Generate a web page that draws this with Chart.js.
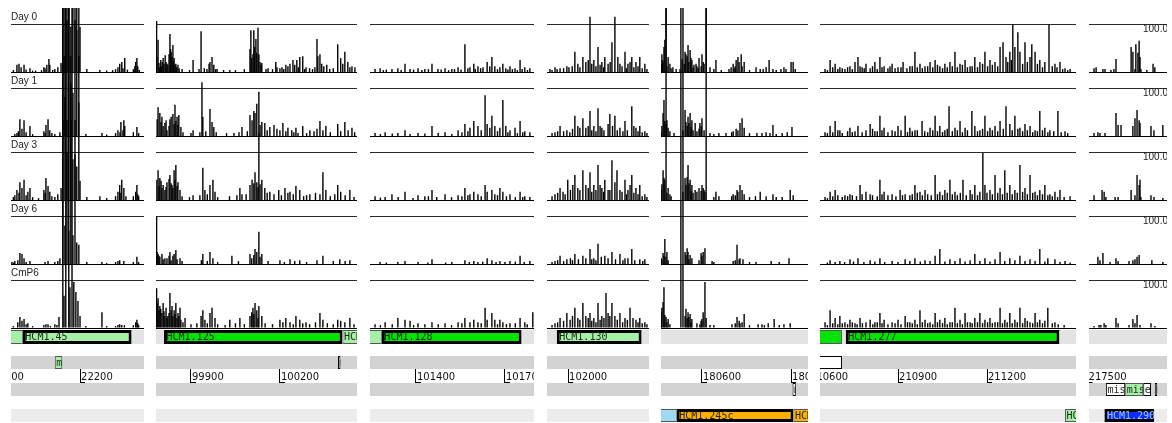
<!DOCTYPE html>
<html><head><meta charset="utf-8">
<script src="https://cdn.jsdelivr.net/npm/chart.js@4/dist/chart.umd.min.js"></script>
<style>
html,body{margin:0;padding:0;background:#fff;width:1172px;height:423px;overflow:hidden;}
canvas.c{position:absolute;display:block;}
</style></head><body>
<script>
// ---------------- data ----------------
const rowNames = ['Day 0', 'Day 1', 'Day 3', 'Day 6', 'CmP6'];
const scaleTop = 100;
const scaleLabel = '100.0';
const panelMin = [21967, 99782, 101245, 101929, 180462, 210637, 217505];
const panelMax = [22416, 100460, 101798, 102273, 180957, 211500, 217768];
const axisTicks = [[21900, 22200], [99900, 100200], [101400, 101700], [102000], [180600, 180900], [210600, 210900, 211200, 211500], [217500]];

// [position (bp), score]
const p1Day0 = [[21987,15],[21994,17],[22001,10],[22011,15],[22031,8],[22078,10],[22088,15],[22095,27],[22098,15],[22125,10],[22136,19],
  [22142,300],[22149,300],[22156,108],[22162,300],[22169,95],[22176,300],[22183,108],[22189,88],[22196,300],[22200,94],
  [22223,6],[22267,4],[22328,10],[22334,17],[22341,21],[22351,29],[22385,12],[22388,21],[22392,29],[22395,12],
  [21975,4],[22018,5],[22040,3],[22050,3],[22070,4],[22082,8],[22108,4],[22115,6],[22290,3],[22310,4],[22320,6],[22345,8],[22360,5],[22380,6],[22400,4]];
const p1Day1 = [[21987,6],[21997,35],[22004,15],[22011,33],[22031,21],[22085,23],[22092,35],[22098,12],[22105,6],[22132,8],
  [22142,300],[22149,81],[22156,300],[22162,300],[22169,110],[22176,90],[22183,300],[22189,300],[22196,70],
  [22220,4],[22274,6],[22328,12],[22338,29],[22348,33],[22351,21],[22392,19],
  [21980,4],[21992,10],[22018,8],[22040,4],[22078,10],[22082,6],[22115,4],[22290,3],[22320,6],[22335,8],[22345,12],[22380,8],[22398,6]];
const p1Day3 = [[21980,10],[21987,21],[21997,37],[22004,25],[22011,42],[22024,17],[22031,25],[22078,21],[22085,46],[22092,29],[22098,17],[22125,12],[22136,25],
  [22142,300],[22149,300],[22156,100],[22162,300],[22169,300],[22176,85],[22183,95],[22189,70],[22196,300],[22200,40],
  [22223,6],[22267,8],[22328,17],[22334,31],[22341,42],[22348,25],[22388,17],[22392,31],[22395,12],
  [21975,6],[21994,15],[22018,10],[22040,6],[22060,4],[22082,15],[22105,8],[22115,6],[22290,4],[22320,8],[22338,15],[22355,8],[22380,8],[22398,8]];
const p1Day6 = [[21970,4],[21980,6],[21997,23],[22004,21],[22011,12],[22031,6],[22092,6],[22125,6],[22132,12],
  [22142,300],[22149,80],[22156,300],[22162,70],[22169,300],[22176,60],[22183,300],[22189,45],[22196,40],
  [22223,4],[22274,4],[22328,6],[22334,8],[22348,6],[22392,15],
  [21975,3],[21990,8],[22018,4],[22082,4],[22115,4],[22290,2],[22320,4],[22380,4],[22398,4]];
const p1CmP6 = [[21997,23],[22004,15],[22011,19],[22024,10],[22085,8],[22092,8],[22122,6],[22129,23],
  [22142,700],[22146,67],[22152,700],[22162,700],[22166,85],[22173,700],[22179,96],[22186,75],[22193,56],[22200,25],
  [22220,4],[22274,33],[22328,6],[22334,8],[22341,6],[22388,12],[22392,17],[22395,10],
  [21975,4],[21990,12],[22018,8],[22040,4],[22078,6],[22100,4],[22115,8],[22290,4],[22320,4],[22350,6],[22380,6],[22398,6]];

const p2Day0 = [[99784,106],[99785,31],[99789,67],[99792,19],[99795,10],[99806,29],[99809,17],[99816,21],[99819,17],[99826,37],[99829,79],[99833,42],[99836,31],[99839,56],[99843,29],[99846,15],[99849,17],[99856,15],[99907,25],[99927,6],[99934,85],[99954,6],[99961,17],[99964,21],[99971,31],[99977,15],[99988,6],[100031,4],[100099,48],[100102,87],[100109,37],[100112,87],[100119,69],[100126,92],[100129,37],[100133,21],[100139,19],[100153,6],[100186,21],[100190,10],[100207,10],[100220,15],[100234,17],[100244,25],[100257,25],[100267,31],[100277,33],[100288,10],[100325,69],[100328,33],[100335,37],[100341,17],[100358,15],[100368,6],[100395,58],[100405,29],[100419,42],[100429,21],[100443,12],[100453,10],
  [99798,25],[99800,12],[99803,21],[99813,35],[99822,15],[99831,48],[99841,23],[99852,10],[99860,8],[99870,6],[99895,4],[99945,8],[99983,6],[100010,4],[100050,4],[100080,6],[100105,29],[100115,52],[100122,40],[100136,15],[100160,8],[100175,6],[100200,8],[100213,6],[100227,12],[100250,15],[100262,10],[100283,6],[100300,8],[100310,6],[100318,10],[100348,12],[100380,8],[100412,17],[100436,10]];
const p2Day1 = [[99789,60],[99795,48],[99802,40],[99812,27],[99819,12],[99833,40],[99839,46],[99846,65],[99853,40],[99859,44],[99866,19],[99907,12],[99937,112],[99940,40],[99964,56],[99971,29],[99977,19],[100062,8],[100072,19],[100099,44],[100116,48],[100122,67],[100129,92],[100139,29],[100149,27],[100166,19],[100180,23],[100200,12],[100210,27],[100227,17],[100240,12],[100254,17],[100261,6],[100277,21],[100301,12],[100335,31],[100355,21],[100395,25],[100419,29],[100443,17],
  [99786,35],[99799,29],[99806,21],[99816,33],[99826,21],[99829,35],[99843,25],[99849,31],[99856,23],[99873,8],[99900,6],[99930,8],[99950,10],[99985,8],[100020,6],[100045,6],[100090,10],[100106,33],[100112,52],[100133,23],[100157,12],[100190,15],[100220,10],[100247,8],[100290,6],[100315,10],[100325,15],[100345,12],[100370,8],[100405,10],[100430,12],[100452,8]];
const p2Day3 = [[99785,42],[99789,62],[99795,46],[99806,31],[99812,21],[99819,37],[99829,52],[99836,31],[99843,62],[99849,73],[99856,37],[99863,21],[99907,10],[99940,67],[99947,21],[99964,31],[99974,42],[99981,17],[100065,25],[100072,12],[100099,31],[100106,42],[100116,58],[100122,37],[100129,140],[100139,42],[100149,25],[100166,17],[100196,21],[100217,25],[100234,17],[100254,29],[100267,21],[100301,12],[100345,58],[100355,21],[100395,31],[100405,17],[100436,21],
  [99792,29],[99799,40],[99802,25],[99816,27],[99826,44],[99833,35],[99839,25],[99846,42],[99853,29],[99870,8],[99895,6],[99930,10],[99955,12],[99990,6],[100030,8],[100055,10],[100086,12],[100112,35],[100126,27],[100133,33],[100157,15],[100180,12],[100205,10],[100227,15],[100245,12],[100280,8],[100290,10],[100320,15],[100335,12],[100370,8],[100385,12],[100420,10],[100450,6]];
const p2Day6 = [[99784,100],[99786,25],[99792,17],[99802,21],[99812,12],[99829,25],[99839,17],[99849,29],[99863,12],[99940,21],[99964,25],[99974,12],[100038,17],[100099,21],[100116,31],[100122,25],[100129,67],[100139,21],[100200,8],[100234,10],[100267,8],[100345,17],[100402,10],[100436,8],
  [99789,21],[99795,15],[99806,10],[99819,12],[99826,17],[99833,8],[99843,21],[99853,10],[99870,6],[99935,8],[99955,6],[99990,4],[100060,6],[100105,12],[100112,19],[100133,15],[100160,6],[100215,4],[100250,6],[100290,4],[100325,8],[100380,6],[100420,6]];
const p2CmP6 = [[99784,83],[99786,52],[99789,62],[99792,37],[99795,46],[99802,31],[99806,52],[99812,25],[99816,42],[99819,21],[99826,31],[99829,73],[99833,37],[99836,46],[99839,25],[99843,37],[99849,52],[99853,21],[99856,31],[99863,42],[99866,17],[99880,21],[99934,25],[99940,37],[99947,17],[99964,31],[99971,42],[99981,21],[100031,17],[100065,21],[100099,25],[100109,42],[100116,52],[100122,37],[100129,46],[100139,25],[100200,17],[100220,21],[100234,12],[100254,25],[100267,17],[100288,12],[100335,31],[100345,17],[100395,17],[100419,12],[100436,21],
  [99798,40],[99809,35],[99822,25],[99846,29],[99859,25],[99873,12],[99900,8],[99920,10],[99955,10],[99990,8],[100015,6],[100050,10],[100080,8],[100105,33],[100112,29],[100126,21],[100150,10],[100175,8],[100210,12],[100245,8],[100277,10],[100300,8],[100320,12],[100360,10],[100380,8],[100405,15],[100450,8]];

const p3Day0 = [[101262,6],[101279,8],[101319,6],[101339,8],[101363,17],[101380,6],[101407,8],[101430,6],[101454,17],[101474,6],[101498,8],[101521,6],[101542,10],[101565,58],[101582,10],[101595,17],[101609,12],[101626,10],[101640,21],[101649,12],[101656,31],[101666,12],[101683,10],[101693,17],[101703,8],[101717,12],[101734,8],[101751,25],[101767,10],[101784,8],
  [101290,4],[101300,5],[101350,4],[101392,5],[101420,4],[101442,6],[101485,5],[101510,4],[101530,6],[101552,5],[101575,8],[101600,6],[101618,8],[101675,6],[101710,5],[101725,6],[101742,4],[101758,6],[101776,4]];
const p3Day1 = [[101262,6],[101296,8],[101339,6],[101363,12],[101407,6],[101454,21],[101498,8],[101542,12],[101565,25],[101582,17],[101595,31],[101609,21],[101633,85],[101640,25],[101649,17],[101656,42],[101666,21],[101683,17],[101693,75],[101703,21],[101717,12],[101734,17],[101751,31],[101767,10],[101784,8],
  [101280,4],[101320,5],[101380,4],[101430,5],[101475,6],[101521,4],[101555,8],[101575,10],[101620,12],[101675,10],[101710,8],[101742,6],[101760,8]];
const p3Day3 = [[101262,8],[101296,6],[101319,12],[101363,17],[101407,10],[101430,8],[101454,21],[101498,12],[101542,10],[101565,25],[101582,12],[101595,17],[101609,12],[101633,31],[101640,17],[101656,21],[101666,12],[101683,25],[101693,17],[101717,12],[101751,17],[101767,8],[101784,6],
  [101280,5],[101340,6],[101390,4],[101442,8],[101470,6],[101520,6],[101555,8],[101575,10],[101620,8],[101675,10],[101705,8],[101735,6],[101760,6]];
const p3Day6 = [[101279,4],[101339,4],[101363,6],[101407,4],[101454,10],[101521,4],[101565,8],[101595,6],[101609,4],[101640,12],[101656,8],[101683,6],[101717,6],[101751,17],[101784,6],
  [101300,3],[101440,3],[101500,3],[101580,4],[101625,5],[101670,4],[101700,4],[101735,5],[101765,4]];
const p3CmP6 = [[101262,8],[101296,12],[101339,21],[101363,17],[101380,15],[101407,10],[101454,12],[101498,10],[101542,12],[101565,21],[101582,12],[101595,17],[101609,12],[101633,42],[101640,17],[101656,31],[101666,17],[101683,17],[101693,12],[101717,10],[101751,21],[101767,12],[101794,33],
  [101280,6],[101320,8],[101392,6],[101430,8],[101475,8],[101520,6],[101555,10],[101620,10],[101675,8],[101705,8],[101735,10],[101775,8]];

const p4Day0 = [[101939,6],[101956,10],[101973,8],[101996,12],[102023,42],[102033,17],[102050,31],[102060,21],[102074,115],[102087,25],[102101,52],[102114,21],[102124,31],[102135,17],[102148,62],[102158,115],[102168,31],[102175,17],[102192,42],[102202,17],[102215,31],[102229,21],[102242,31],[102259,17],
  [101946,4],[101963,6],[101985,8],[102003,10],[102014,12],[102040,10],[102068,25],[102080,17],[102094,12],[102108,15],[102120,10],[102142,21],[102182,12],[102197,8],[102209,21],[102222,10],[102236,12],[102250,8],[102266,6]];
const p4Day1 = [[101956,8],[101973,21],[101996,12],[102023,42],[102033,21],[102050,37],[102060,17],[102074,52],[102087,21],[102101,58],[102114,17],[102135,25],[102141,46],[102158,42],[102175,17],[102192,31],[102215,62],[102229,17],[102242,21],[102259,10],
  [101946,6],[101965,10],[101985,10],[102006,8],[102015,15],[102040,17],[102068,21],[102080,12],[102094,10],[102108,21],[102121,12],[102150,21],[102166,12],[102185,10],[102200,12],[102222,21],[102236,10],[102250,8],[102266,6]];
const p4Day3 = [[101956,12],[101973,25],[101983,17],[101999,42],[102023,52],[102033,25],[102050,62],[102060,31],[102074,58],[102087,31],[102101,73],[102114,25],[102124,42],[102135,21],[102148,83],[102158,37],[102165,62],[102175,21],[102192,42],[102202,21],[102215,52],[102229,25],[102242,31],[102259,12],
  [101946,8],[101965,15],[101990,12],[102008,21],[102016,31],[102040,21],[102068,25],[102080,17],[102094,21],[102108,31],[102120,17],[102141,21],[102182,17],[102197,12],[102209,31],[102222,15],[102236,12],[102250,8],[102266,6]];
const p4Day6 = [[101956,6],[101973,17],[101996,10],[102023,21],[102050,17],[102074,31],[102087,12],[102101,42],[102124,17],[102148,25],[102175,21],[102192,12],[102215,31],[102242,10],[102259,10],
  [101946,4],[101965,8],[101985,6],[102008,12],[102015,8],[102035,10],[102060,12],[102080,10],[102094,8],[102112,15],[102135,12],[102160,10],[102185,8],[102202,12],[102225,8],[102252,6]];
const p4CmP6 = [[101956,10],[101973,21],[101996,31],[102007,17],[102023,42],[102033,21],[102050,52],[102060,25],[102074,31],[102087,21],[102101,52],[102114,25],[102128,73],[102135,31],[102148,52],[102158,25],[102175,31],[102192,21],[102209,42],[102229,17],[102242,21],[102259,12],
  [101946,6],[101965,12],[101985,15],[102015,25],[102040,17],[102068,21],[102080,15],[102094,12],[102108,17],[102121,21],[102141,25],[102166,17],[102184,12],[102200,17],[102219,21],[102236,12],[102250,10],[102266,8]];

const p5Day0 = [[180463,17],[180465,37],[180472,52],[180475,67],[180479,200],[180486,31],[180492,17],[180502,10],[180513,6],[180526,6],[180533,27],[180540,17],[180543,42],[180546,37],[180553,56],[180560,46],[180566,25],[180573,15],[180580,17],[180590,29],[180600,37],[180607,17],[180614,200],[180627,10],[180647,25],[180691,6],[180698,10],[180705,17],[180715,25],[180721,31],[180725,21],[180732,37],[180742,21],[180782,10],[180796,6],[180806,6],[180816,10],[180826,25],[180839,6],[180876,10],[180883,6],[180900,21],[180907,21],[180914,6],
  [180467,25],[180469,21],[180482,12],[180496,8],[180550,33],[180556,21],[180563,29],[180570,10],[180583,12],[180587,8],[180597,12],[180604,21],[180640,6],[180665,4],[180708,8],[180712,12],[180735,12],[180760,4],[180850,4],[180866,6]];
const p5Day1 = [[180463,8],[180469,48],[180472,75],[180482,33],[180492,10],[180506,6],[180543,54],[180553,40],[180560,48],[180566,33],[180577,27],[180593,27],[180600,37],[180627,6],[180657,6],[180681,6],[180705,10],[180715,15],[180728,27],[180735,37],[180742,17],[180785,6],[180802,6],[180816,8],[180829,6],[180839,23],[180887,8],[180903,19],
  [180465,21],[180475,31],[180479,25],[180486,17],[180536,12],[180546,29],[180550,21],[180556,27],[180563,19],[180570,12],[180583,10],[180590,15],[180597,21],[180607,12],[180640,4],[180700,8],[180721,12],[180760,6],[180850,4],[180870,6]];
const p5Day3 = [[180463,21],[180469,62],[180472,46],[180475,42],[180479,400],[180486,25],[180492,12],[180543,46],[180546,31],[180553,73],[180560,42],[180566,31],[180577,21],[180590,25],[180600,31],[180607,21],[180614,400],[180647,17],[180657,8],[180705,12],[180718,21],[180728,31],[180735,21],[180742,12],[180796,17],[180816,8],[180839,12],[180897,21],[180907,10],
  [180465,33],[180482,15],[180496,8],[180536,17],[180550,48],[180556,35],[180563,19],[180570,15],[180583,17],[180597,19],[180604,25],[180610,17],[180640,6],[180700,8],[180712,10],[180721,17],[180760,6],[180780,8],[180850,6],[180870,6]];
const p5Day6 = [[180463,12],[180469,23],[180475,52],[180482,25],[180543,25],[180550,33],[180560,19],[180566,12],[180597,23],[180604,25],[180610,33],[180634,6],[180705,6],[180718,40],[180728,12],[180738,10],[180782,4],[180833,6],[180893,12],
  [180465,8],[180472,17],[180479,15],[180486,8],[180546,19],[180553,25],[180556,10],[180590,8],[180600,17],[180640,4],[180712,8],[180725,10],[180760,4],[180860,4]];
const p5CmP6 = [[180463,33],[180469,54],[180472,85],[180479,23],[180486,19],[180492,8],[180529,700],[180536,700],[180546,40],[180553,33],[180560,29],[180566,19],[180593,8],[180600,19],[180610,96],[180627,6],[180701,8],[180718,23],[180728,10],[180742,29],[180789,8],[180802,8],[180823,10],[180843,19],[180876,8],[180897,10],
  [180465,42],[180475,27],[180482,12],[180543,25],[180550,21],[180556,23],[180563,12],[180583,10],[180597,15],[180604,33],[180614,21],[180640,6],[180712,10],[180725,15],[180735,12],[180760,6],[180810,6],[180860,6]];

const p6Day0 = [[210654,6],[210671,25],[210688,17],[210704,10],[210721,6],[210738,12],[210755,21],[210765,31],[210779,10],[210792,17],[210806,8],[210822,21],[210839,31],[210853,12],[210866,8],[210880,17],[210900,10],[210917,21],[210940,12],[210957,42],[210974,17],[210991,12],[211008,21],[211025,25],[211041,12],[211058,17],[211075,21],[211092,42],[211109,17],[211126,25],[211143,12],[211159,31],[211176,21],[211193,42],[211210,25],[211227,21],[211244,52],[211254,62],[211264,31],[211277,42],[211287,100],[211294,52],[211304,83],[211311,42],[211328,62],[211345,31],[211351,58],[211362,42],[211378,25],[211395,21],[211409,100],[211429,17],[211446,21],[211463,8],[211480,6],
  [210662,4],[210680,10],[210697,6],[210712,8],[210730,10],[210746,6],[210772,12],[210786,8],[210814,12],[210830,6],[210846,10],[210873,12],[210890,8],[210910,10],[210930,8],[210948,12],[210965,10],[210982,8],[211000,12],[211017,10],[211033,15],[211050,8],[211066,10],[211083,12],[211100,10],[211117,15],[211134,10],[211150,12],[211168,10],[211185,17],[211202,12],[211218,15],[211236,12],[211270,21],[211282,25],[211320,17],[211336,21],[211370,17],[211387,10],[211420,12],[211436,10],[211455,6],[211472,4]];
const p6Day1 = [[210654,8],[210671,21],[210688,31],[210704,12],[210738,17],[210755,10],[210765,21],[210792,12],[210806,25],[210822,10],[210839,42],[210853,17],[210880,12],[210900,21],[210924,42],[210940,17],[210957,12],[210981,31],[211008,17],[211025,42],[211041,21],[211058,12],[211072,62],[211092,17],[211109,31],[211126,17],[211149,52],[211159,21],[211176,12],[211193,42],[211210,17],[211227,21],[211244,31],[211264,62],[211277,25],[211294,42],[211311,17],[211328,25],[211345,21],[211362,12],[211378,52],[211395,17],[211412,12],[211439,52],[211463,10],
  [210662,6],[210680,8],[210697,12],[210712,6],[210730,10],[210746,8],[210779,8],[210814,15],[210830,10],[210846,12],[210866,8],[210890,10],[210910,12],[210932,8],[210948,10],[210965,12],[210990,10],[211000,8],[211017,12],[211033,10],[211050,8],[211066,15],[211083,10],[211100,12],[211117,8],[211134,12],[211168,10],[211185,15],[211202,10],[211218,12],[211236,10],[211255,15],[211285,12],[211304,15],[211320,10],[211336,12],[211354,8],[211370,10],[211387,12],[211405,8],[211425,10],[211450,8],[211472,6]];
const p6Day3 = [[210654,6],[210671,17],[210688,21],[210721,10],[210738,12],[210772,31],[210792,17],[210806,12],[210839,42],[210853,17],[210880,12],[210907,21],[210924,12],[210957,31],[210974,17],[210991,21],[211025,52],[211041,17],[211058,21],[211075,42],[211092,17],[211119,42],[211143,21],[211159,31],[211176,17],[211186,98],[211193,31],[211210,21],[211227,52],[211244,25],[211260,62],[211277,31],[211294,21],[211311,73],[211328,25],[211345,52],[211362,17],[211378,21],[211395,31],[211412,12],[211429,17],[211446,21],[211480,8],
  [210662,4],[210680,8],[210697,10],[210712,6],[210730,8],[210746,10],[210760,8],[210779,12],[210814,10],[210830,8],[210846,12],[210866,10],[210893,8],[210915,10],[210940,10],[210948,12],[210965,15],[210982,10],[211000,12],[211012,10],[211033,12],[211050,10],[211066,15],[211083,12],[211100,10],[211110,15],[211130,10],[211150,12],[211168,10],[211200,15],[211218,12],[211236,15],[211252,12],[211268,15],[211285,12],[211302,15],[211320,17],[211336,12],[211354,15],[211370,10],[211387,12],[211405,10],[211420,8],[211438,6],[211460,6]];
const p6Day6 = [[210671,8],[210704,6],[210738,10],[210765,12],[210806,8],[210839,12],[210880,6],[210924,10],[210957,12],[210991,8],[211025,17],[211041,31],[211075,10],[211109,12],[211143,8],[211159,21],[211193,12],[211227,10],[211244,25],[211277,12],[211311,17],[211345,10],[211378,31],[211405,12],[211429,10],[211463,6],
  [210662,3],[210688,4],[210720,4],[210750,5],[210785,4],[210822,5],[210855,4],[210900,4],[210940,6],[210975,5],[211008,6],[211058,5],[211092,6],[211126,5],[211176,6],[211210,5],[211260,6],[211294,8],[211328,6],[211362,6],[211395,5],[211446,4],[211480,3]];
const p6CmP6 = [[210654,12],[210671,37],[210688,21],[210704,25],[210721,12],[210738,17],[210755,10],[210772,21],[210792,12],[210806,17],[210822,12],[210839,31],[210853,17],[210880,12],[210900,17],[210924,25],[210940,12],[210957,17],[210974,37],[210991,17],[211008,12],[211025,31],[211041,17],[211058,21],[211075,12],[211092,42],[211109,17],[211126,31],[211143,12],[211159,21],[211176,31],[211193,17],[211210,21],[211227,12],[211244,42],[211260,17],[211277,31],[211294,17],[211311,42],[211328,21],[211345,12],[211362,31],[211378,17],[211405,42],[211429,12],
  [210662,6],[210680,10],[210697,8],[210712,10],[210730,8],[210746,12],[210762,8],[210780,10],[210815,8],[210830,12],[210846,10],[210866,8],[210890,10],[210910,8],[210932,12],[210948,10],[210965,8],[210982,12],[211000,10],[211017,8],[211033,12],[211050,10],[211066,8],[211083,12],[211100,10],[211117,8],[211134,12],[211150,10],[211168,12],[211185,10],[211202,12],[211218,10],[211236,12],[211252,10],[211268,12],[211285,10],[211302,12],[211320,10],[211336,15],[211354,10],[211370,12],[211387,10],[211395,15],[211420,10],[211440,8],[211460,6]];

const p7Day0 = [[217522,8],[217529,10],[217552,6],[217559,6],[217579,4],[217589,6],[217596,27],[217647,52],[217653,42],[217660,6],[217663,58],[217670,40],[217674,65],[217677,31],[217680,6],[217700,4],[217721,17],[217727,10]];
const p7Day1 = [[217522,6],[217535,8],[217542,6],[217559,6],[217596,48],[217603,23],[217613,23],[217653,21],[217660,37],[217667,54],[217674,33],[217677,27],[217714,21],[217724,12],[217754,23]];
const p7Day3 = [[217522,10],[217549,21],[217556,17],[217562,6],[217593,6],[217603,6],[217647,21],[217660,10],[217667,52],[217674,31],[217677,42],[217680,6],[217714,10],[217724,6],[217754,4]];
const p7Day6 = [[217535,15],[217542,8],[217552,23],[217576,4],[217596,12],[217603,6],[217640,6],[217653,8],[217660,10],[217667,15],[217674,19],[217717,8],[217754,4]];
const p7CmP6 = [[217522,4],[217539,6],[217545,6],[217556,10],[217562,6],[217596,21],[217603,10],[217640,6],[217653,19],[217660,10],[217667,27],[217677,6],[217714,10],[217727,4]];

const signal = [
  [p1Day0, p1Day1, p1Day3, p1Day6, p1CmP6],
  [p2Day0, p2Day1, p2Day3, p2Day6, p2CmP6],
  [p3Day0, p3Day1, p3Day3, p3Day6, p3CmP6],
  [p4Day0, p4Day1, p4Day3, p4Day6, p4CmP6],
  [p5Day0, p5Day1, p5Day3, p5Day6, p5CmP6],
  [p6Day0, p6Day1, p6Day3, p6Day6, p6CmP6],
  [p7Day0, p7Day1, p7Day3, p7Day6, p7CmP6]
];

// annotation features
const featName  = ['HCM1.44','HCM1.45','HCM1.125','HCM1.126','HCM1.128','HCM1.130','HCM1.276','HCM1.277',
                   'misc_feature','misc_feature','misc_feature',
                   'misc_feature','misc_feature','misc_feature','exon','misc_feature',
                   'HCM1.244c','HCM1.245c','HCM1.246c','HCM1.278c','HCM1.290'];
const featStart = [21700,22007,99809,100411,101285,101962,210300,210724, 22115,100396,210300, 180905,217562,217627,217688,217727, 180150,180515,180908,211463,217557];
const featEnd   = [22007,22374,100411,101285,101756,102248,210711,211444, 22140,100404,210711, 180916,217627,217688,217714,217735, 180515,180908,181100,211700,217725];
const featTrack = [0,0,0,0,0,0,0,0, 1,1,1, 2,2,2,2,2, 3,3,3,3,3];

// ---------------- styles / layout ----------------
const LIGHT_GREEN = '#a6efa6', GREEN = '#00e400', ORANGE = '#ffb000', LIGHT_BLUE = '#9fd9f4', BLUE = '#0a2cff', WHITE = '#ffffff';
const featFill = [LIGHT_GREEN, LIGHT_GREEN, GREEN, LIGHT_GREEN, GREEN, LIGHT_GREEN, GREEN, GREEN,
                  LIGHT_GREEN, WHITE, WHITE,
                  WHITE, WHITE, LIGHT_GREEN, WHITE, WHITE,
                  LIGHT_BLUE, ORANGE, ORANGE, LIGHT_GREEN, BLUE];
const featSelected = [0,1,1,0,1,1,0,1, 0,0,0, 0,0,0,0,0, 0,1,0,0,1];
const featTextColor = featFill.map(c => c === BLUE ? '#9cc8ff' : '#1a2a1a');

const PANEL_LEFT  = [11, 156, 370, 547, 661, 820, 1089];
const PANEL_RIGHT = [144, 357, 534, 649, 808, 1076, 1167];
const SIGNAL_TOP = 8, SIGNAL_H = 320;
const ANNOT_TOP = 328, ANNOT_H = 95;
const LANE_Y = [9, 34.5, 61.5, 87.5];
const LANE_TH = [14, 13, 13, 13];
const BAND_COLOR = ['#e3e3e3', '#d3d3d3', '#d3d3d3', '#ececec'];
const AXIS_Y = 41;
const TICK_LEN = 14;
const FOOT_BP = 17;          // length of the little foot under each ruler tick
const ROW_RANGE = scaleTop * 64 / 48;   // each row: 48px plot + 16px label strip

Chart.defaults.font.family = '"Liberation Sans", Arial, sans-serif';

function zeroPad(s) { s.paddingTop = 0; s.paddingBottom = 0; s.paddingLeft = 0; s.paddingRight = 0; }

function addCanvas(left, top, w, h) {
  const cv = document.createElement('canvas');
  cv.className = 'c';
  cv.width = w; cv.height = h;
  cv.style.left = left + 'px'; cv.style.top = top + 'px';
  cv.style.width = w + 'px'; cv.style.height = h + 'px';
  document.body.appendChild(cv);
  return cv;
}

const nRows = rowNames.length;
const rowBase = r => (nRows - 1 - r) * ROW_RANGE;
const rowOfTick = idx => nRows - 1 - Math.floor(idx / 2);

function makeSignal(pi) {
  const w = PANEL_RIGHT[pi] - PANEL_LEFT[pi];
  const cv = addCanvas(PANEL_LEFT[pi], SIGNAL_TOP, w, SIGNAL_H + 2);
  const isLast = pi === signal.length - 1;
  const datasets = signal[pi].map((rows, r) => ({
    data: rows.map(([pos, v]) => ({x: pos, y: [rowBase(r), rowBase(r) + v]})),
    backgroundColor: '#000', borderWidth: 0, barThickness: 1.4,
    grouped: false, clip: false, inflateAmount: 0
  }));
  new Chart(cv, {
    type: 'bar',
    data: {datasets},
    options: {
      responsive: false, animation: false, events: [],
      layout: {padding: {top: 0, left: 0, right: 0, bottom: 2}},
      plugins: {legend: {display: false}, tooltip: {enabled: false}},
      scales: {
        x: {type: 'linear', min: panelMin[pi], max: panelMax[pi], display: false, offset: false},
        y: {
          type: 'linear', min: 0, max: nRows * ROW_RANGE, offset: false,
          position: isLast ? 'right' : 'left',
          border: {display: false},
          grid: {drawTicks: false, lineWidth: 1,
                 color: c => (c.index % 2 === 1) ? '#2a2a2a' : '#000'},
          ticks: {
            mirror: true, padding: isLast ? 1 : 0, autoSkip: false,
            labelOffset: isLast ? 5.5 : -6.5,
            color: '#222', font: {size: 10},
            callback: (v, idx) => {
              if (idx % 2 === 0) return '';
              if (isLast) return scaleLabel;
              return pi === 0 ? rowNames[rowOfTick(idx)] : '';
            }
          },
          afterBuildTicks: s => {
            const t = [];
            for (let r = nRows - 1; r >= 0; r--) { t.push({value: rowBase(r)}); t.push({value: rowBase(r) + scaleTop}); }
            s.ticks = t;
          },
          afterFit: s => { zeroPad(s); s.width = 0; }
        }
      }
    }
  });
}

const featureText = {
  id: 'featureText',
  afterDatasetsDraw(chart) {
    const ctx = chart.ctx;
    chart.data.datasets.forEach((ds, di) => {
      if (!ds.featIdx) return;
      const meta = chart.getDatasetMeta(di);
      meta.data.forEach((el, i) => {
        const fi = ds.featIdx[i];
        const p = el.getProps(['x', 'y', 'base', 'height'], true);
        const l = Math.min(p.x, p.base), r = Math.max(p.x, p.base);
        ctx.save();
        ctx.beginPath(); ctx.rect(l, p.y - p.height / 2, r - l, p.height); ctx.clip();
        ctx.font = '10px "DejaVu Sans Mono", monospace';
        ctx.fillStyle = featTextColor[fi];
        ctx.textBaseline = 'middle';
        ctx.fillText(featName[fi], l + (featSelected[fi] ? 2.5 : 1.5), p.y + 0.5);
        ctx.restore();
      });
    });
  }
};

function makeAnnot(pi) {
  const w = PANEL_RIGHT[pi] - PANEL_LEFT[pi];
  const cv = addCanvas(PANEL_LEFT[pi], ANNOT_TOP, w, ANNOT_H);
  const datasets = [];
  LANE_Y.forEach((ly, lane) => {
    datasets.push({
      data: [{x: [panelMin[pi], panelMax[pi]], y: ly}],
      backgroundColor: BAND_COLOR[lane], borderWidth: 0, barThickness: LANE_TH[lane],
      grouped: false, inflateAmount: 0, order: 10
    });
    const idx = featName.map((_, i) => i).filter(i => featTrack[i] === lane);
    datasets.push({
      featIdx: idx,
      data: idx.map(i => ({x: [featStart[i], featEnd[i]], y: ly})),
      backgroundColor: idx.map(i => featFill[i]),
      borderColor: idx.map(i => featSelected[i] ? '#000' : (featFill[i] === WHITE ? '#000' : '#555')),
      borderWidth: idx.map(i => featSelected[i] ? 3 : 1),
      borderSkipped: false, barThickness: LANE_TH[lane],
      grouped: false, inflateAmount: 0, order: 0
    });
  });
  // small foot at the bottom of each ruler tick
  datasets.push({
    data: axisTicks[pi].map(t => ({x: [t, t + FOOT_BP], y: AXIS_Y + TICK_LEN - 0.5})),
    backgroundColor: '#000', borderWidth: 0, barThickness: 1,
    grouped: false, inflateAmount: 0, order: 1
  });
  new Chart(cv, {
    type: 'bar',
    data: {datasets},
    options: {
      indexAxis: 'y',
      responsive: false, animation: false, events: [],
      layout: {padding: 0},
      plugins: {legend: {display: false}, tooltip: {enabled: false}},
      scales: {
        y: {type: 'linear', min: 0, max: ANNOT_H, reverse: true, display: false, offset: false, grid: {offset: false}},
        x: {
          type: 'linear', min: panelMin[pi], max: panelMax[pi], offset: false,
          position: {y: AXIS_Y},
          border: {display: false},
          grid: {drawOnChartArea: false, drawTicks: true, tickLength: TICK_LEN, tickColor: '#000', tickWidth: 1},
          ticks: {autoSkip: false, align: 'start', labelOffset: 1, padding: -12, maxRotation: 0, minRotation: 0,
                  color: '#111', font: {family: '"DejaVu Sans", sans-serif', size: 10},
                  callback: v => String(v)},
          afterBuildTicks: s => { s.ticks = axisTicks[pi].map(v => ({value: v})); },
          afterFit: s => zeroPad(s)
        }
      }
    },
    plugins: [featureText]
  });
}

for (let pi = 0; pi < signal.length; pi++) { makeSignal(pi); makeAnnot(pi); }
</script>
</body></html>
